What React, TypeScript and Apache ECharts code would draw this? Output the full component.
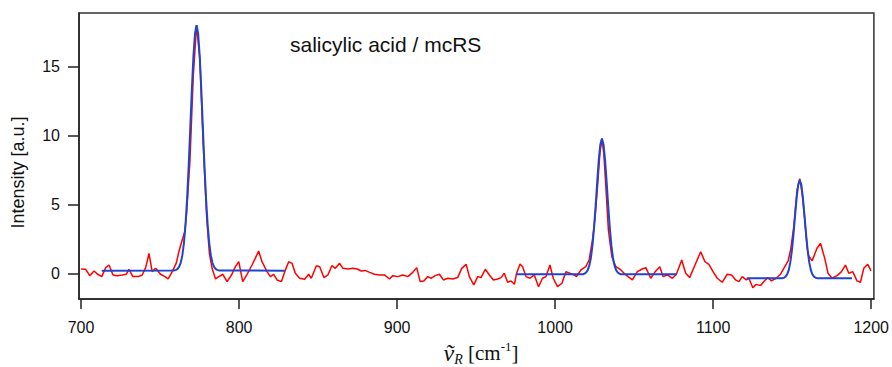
import React, { useEffect, useRef } from "react";
import * as echarts from "echarts";

// Raman shift (cm-1) and measured intensity (a.u.) of the red trace
const ramanShift = [
  700.0, 703.0, 705.5, 708.2, 710.3, 713.1, 715.6, 717.7, 720.2, 722.9, 726.1, 728.6, 730.3, 732.8, 736.2, 738.7,
  740.9, 743.0, 745.0, 747.2, 750.3, 753.1, 755.1, 757.7, 760.2, 761.9, 764.0, 765.7, 766.8, 768.9, 771.0, 773.1,
  775.2, 777.3, 779.5, 781.2, 782.9, 785.1, 787.2, 789.7, 792.4, 795.2, 797.7, 799.8, 802.3, 805.1, 808.2, 812.4,
  814.5, 817.7, 819.8, 821.9, 824.0, 826.8, 828.9, 831.4, 833.5, 835.6, 838.3, 841.5, 844.0, 845.7, 848.9, 851.0,
  853.7, 856.2, 858.7, 860.9, 863.6, 865.7, 868.9, 872.0, 874.8, 877.3, 879.8, 882.6, 885.7, 888.9, 892.0, 895.2,
  897.3, 900.4, 903.6, 906.8, 909.9, 912.4, 914.6, 916.9, 919.4, 921.5, 924.1, 926.8, 929.3, 932.0, 935.2, 938.3,
  940.9, 943.7, 945.7, 948.5, 951.0, 953.1, 955.8, 958.4, 960.9, 963.6, 965.8, 967.8, 969.9, 972.1, 974.2, 975.6,
  977.8, 979.4, 981.6, 984.1, 986.8, 989.5, 992.0, 994.2, 996.7, 998.8, 1001.5, 1004.3, 1006.8, 1009.3, 1012.1, 1013.5,
  1016.3, 1019.4, 1021.5, 1023.6, 1025.3, 1026.8, 1028.3, 1029.6, 1030.8, 1032.1, 1033.7, 1035.9, 1038.4, 1041.6, 1044.7, 1048.9,
  1052.0, 1055.2, 1057.4, 1060.5, 1063.3, 1066.2, 1068.3, 1071.0, 1074.2, 1076.7, 1080.1, 1082.6, 1085.1, 1088.5, 1092.1, 1094.8,
  1097.3, 1099.9, 1102.6, 1105.7, 1108.9, 1111.7, 1114.2, 1116.3, 1118.4, 1120.9, 1122.6, 1125.1, 1127.2, 1130.0, 1132.1, 1134.6,
  1136.9, 1139.8, 1142.6, 1145.3, 1147.4, 1149.1, 1151.0, 1153.1, 1154.8, 1156.3, 1158.0, 1159.4, 1160.5, 1162.6, 1165.7, 1167.9,
  1170.6, 1172.7, 1175.2, 1178.4, 1181.2, 1183.7, 1185.8, 1188.3, 1191.0, 1193.2, 1195.3, 1197.8, 1199.9,
];
const measuredIntensity = [
  0.36, 0.34, -0.12, 0.22, 0.0, -0.19, 0.46, 0.65, -0.07, -0.12, -0.07, -0.02, 0.34, -0.19, -0.19, -0.07,
  0.46, 1.49, 0.17, 0.41, -0.02, -0.19, -0.36, 0.17, 0.77, 1.61, 2.46, 3.1, 4.4, 8.2, 14.3, 18.0,
  15.5, 9.4, 4.1, 1.5, 0.41, -0.36, -0.19, -0.02, -0.55, -0.07, 0.53, 0.89, -0.55, -0.02, 0.65, 1.66,
  0.89, 0.17, -0.19, -0.02, -0.43, -0.55, 0.17, 0.89, 0.77, 0.05, -0.31, -0.38, -0.02, -0.31, 0.6, 0.53,
  -0.26, -0.07, 0.6, 0.41, 0.77, 0.41, 0.36, 0.41, 0.36, 0.22, 0.26, 0.12, -0.02, -0.07, -0.07, -0.36,
  -0.12, -0.19, -0.07, -0.19, 0.12, 0.46, -0.55, -0.5, -0.19, -0.31, -0.12, -0.02, -0.43, -0.31, -0.36, -0.26,
  0.41, 0.7, -0.19, -0.79, -0.19, -0.26, 0.34, -0.07, -0.43, -0.36, -0.26, 0.05, -0.6, -0.5, -0.75, 0.05,
  0.72, 0.53, -0.19, -0.31, -0.07, -0.92, -0.31, -0.19, 0.65, -0.31, -0.92, -0.67, 0.17, 0.05, -0.07, -0.19,
  0.29, 0.53, 1.01, 2.46, 4.14, 6.3, 8.72, 9.8, 8.7, 6.3, 3.18, 1.25, 0.53, 0.29, -0.07, -0.43,
  0.17, 0.36, 0.46, -0.31, 0.17, 0.53, -0.19, -0.07, -0.31, -0.02, 1.01, 0.05, -0.26, 0.65, 1.61, 0.89,
  0.7, 0.17, -0.31, -0.6, -0.02, -0.07, -0.43, -0.55, -0.19, -0.43, -0.31, -0.99, -0.75, -0.84, -0.55, -0.26,
  -0.5, -0.31, -0.02, 0.53, 0.94, 1.8, 3.42, 6.08, 6.9, 5.84, 3.9, 1.97, 1.3, 0.95, 1.86, 2.22,
  1.13, 0.05, -0.31, -0.12, 0.17, 0.65, 0.05, 0.17, -0.5, -0.6, 0.41, 0.7, 0.22,
];

// Fitted bands (blue traces)
const fit1Shift = [
  713.1, 757.1, 759.1, 760.1, 761.1, 762.1, 763.1, 764.1, 765.1, 766.1, 767.1, 768.1, 769.1, 770.1, 771.1, 772.1,
  773.1, 774.1, 775.1, 776.1, 777.1, 778.1, 779.1, 780.1, 781.1, 782.1, 783.1, 784.1, 785.1, 786.1, 787.1, 789.1, 828.9,
];
const fit1Intensity = [
  0.24, 0.25, 0.26, 0.3, 0.37, 0.53, 0.83, 1.36, 2.24, 3.58, 5.45, 7.82, 10.54, 13.31, 15.74, 17.41,
  18.0, 17.41, 15.74, 13.31, 10.54, 7.82, 5.45, 3.58, 2.24, 1.36, 0.83, 0.53, 0.37, 0.3, 0.26, 0.25, 0.24,
];
const fit2Shift = [
  975.2, 1017.6, 1018.6, 1019.6, 1020.6, 1021.6, 1022.6, 1023.6, 1024.6, 1025.6, 1026.6, 1027.6, 1028.6, 1029.6,
  1030.6, 1031.6, 1032.6, 1033.6, 1034.6, 1035.6, 1036.6, 1037.6, 1038.6, 1039.6, 1040.6, 1041.6, 1077.1,
];
const fit2Intensity = [
  -0.02, -0.02, 0.03, 0.11, 0.28, 0.6, 1.16, 2.05, 3.31, 4.89, 6.63, 8.24, 9.38, 9.8,
  9.38, 8.24, 6.63, 4.89, 3.31, 2.05, 1.16, 0.6, 0.28, 0.11, 0.03, -0.02, -0.02,
];
const fit3Shift = [
  1121.2, 1142.8, 1143.8, 1144.8, 1145.8, 1146.8, 1147.8, 1148.8, 1149.8, 1150.8, 1151.8, 1152.8, 1153.8, 1154.8,
  1155.8, 1156.8, 1157.8, 1158.8, 1159.8, 1160.8, 1161.8, 1162.8, 1163.8, 1164.8, 1165.8, 1166.8, 1187.9,
];
const fit3Intensity = [
  -0.31, -0.31, -0.3, -0.27, -0.19, -0.03, 0.28, 0.84, 1.69, 2.85, 4.19, 5.49, 6.45, 6.8,
  6.45, 5.49, 4.19, 2.85, 1.69, 0.84, 0.28, -0.03, -0.19, -0.27, -0.3, -0.31, -0.31,
];

const xTicks = [700, 800, 900, 1000, 1100, 1200];
const yTicks = [0, 5, 10, 15];

const zip = (xs: number[], ys: number[]) => xs.map((x, i) => [x, ys[i]]);

export default function App() {
  const ref = useRef<HTMLDivElement>(null);

  useEffect(() => {
    if (!ref.current) return;
    const chart = echarts.init(ref.current, undefined, { renderer: "svg" });
    const sans = "Liberation Sans, Arial, sans-serif";
    const serif = "Liberation Serif, Times New Roman, serif";
    const blue = "#1f45d0";
    const fitSeries = (data: number[][]) => ({
      type: "line",
      data,
      showSymbol: false,
      lineStyle: { color: blue, width: 2 },
      z: 3,
    });
    chart.setOption({
      animation: false,
      grid: {
        left: 79,
        right: 17,
        top: 13,
        bottom: 68,
        show: true,
        borderColor: "#333",
        borderWidth: 1.5,
      },
      xAxis: {
        type: "value",
        min: 698.7,
        max: 1201.7,
        axisLine: { show: true, onZero: false, lineStyle: { color: "#222", width: 1.5 } },
        axisTick: {
          show: true,
          customValues: xTicks,
          length: 10,
          lineStyle: { color: "#222", width: 1.5 },
        },
        axisLabel: {
          customValues: xTicks,
          fontSize: 16,
          color: "#111",
          fontFamily: sans,
          margin: 20,
          formatter: (v: number) => String(v),
        },
        splitLine: { show: false },
      },
      yAxis: {
        type: "value",
        min: -1.81,
        max: 18.89,
        axisLine: { show: true, onZero: false, lineStyle: { color: "#222", width: 1.5 } },
        axisTick: {
          show: true,
          customValues: yTicks,
          length: 11,
          lineStyle: { color: "#222", width: 1.5 },
        },
        axisLabel: {
          customValues: yTicks,
          fontSize: 16,
          color: "#111",
          fontFamily: sans,
          margin: 19,
          formatter: (v: number) => String(v),
        },
        splitLine: { show: false },
      },
      series: [
        {
          type: "line",
          data: zip(ramanShift, measuredIntensity),
          showSymbol: false,
          lineStyle: { color: "#ff0000", width: 1.5 },
          z: 2,
        },
        fitSeries(zip(fit1Shift, fit1Intensity)),
        fitSeries(zip(fit2Shift, fit2Intensity)),
        fitSeries(zip(fit3Shift, fit3Intensity)),
      ],
      graphic: [
        {
          type: "text",
          x: 290,
          y: 44.5,
          style: {
            text: "salicylic acid / mcRS",
            font: `21px ${sans}`,
            fill: "#111",
            textVerticalAlign: "middle",
          },
        },
        {
          type: "text",
          x: 17.5,
          y: 172.5,
          rotation: Math.PI / 2,
          style: {
            text: "Intensity [a.u.]",
            font: `18px ${sans}`,
            fill: "#111",
            textAlign: "center",
            textVerticalAlign: "middle",
          },
        },
        {
          type: "text",
          x: 481,
          y: 353,
          style: {
            text: "{v|ṽ}{s|R}{n| [cm}{p|-1}{n|]}",
            textAlign: "center",
            textVerticalAlign: "middle",
            fill: "#111",
            rich: {
              v: { fontFamily: serif, fontSize: 24, fontStyle: "italic", lineHeight: 26, fill: "#111" },
              s: { fontFamily: serif, fontSize: 14, fontStyle: "italic", lineHeight: 14, verticalAlign: "bottom", fill: "#111" },
              n: { fontFamily: serif, fontSize: 21, lineHeight: 26, fill: "#111" },
              p: { fontFamily: serif, fontSize: 13, lineHeight: 14, verticalAlign: "top", fill: "#111" },
            },
          },
        },
      ],
    });
    return () => chart.dispose();
  }, []);

  return (
    <div
      ref={ref}
      style={{ position: "fixed", left: 0, top: 0, width: 892, height: 367, background: "#fff" }}
    />
  );
}
